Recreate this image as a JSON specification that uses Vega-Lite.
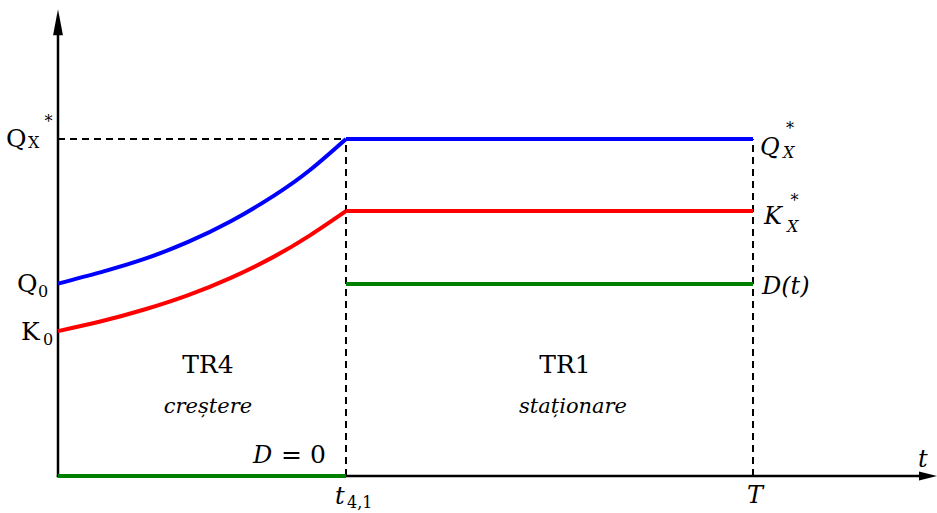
{
  "$schema": "https://vega.github.io/schema/vega-lite/v6.json",
  "width": 937,
  "height": 513,
  "autosize": {"type": "none"},
  "padding": 0,
  "background": "white",
  "config": {"view": {"stroke": null}, "text": {"font": "DejaVu Serif", "color": "black"}},
  "datasets": {
    "axes": [
      {"axis": "y", "x": 0, "y": -0.004},
      {"axis": "y", "x": 0, "y": 1.31},
      {"axis": "x", "x": -0.004, "y": 0},
      {"axis": "x", "x": 2.99, "y": 0}
    ],
    "guides": [
      {"x": 0, "y": 1, "x2": 1, "y2": 1},
      {"x": 1, "y": 0, "x2": 1, "y2": 1},
      {"x": 2.4132, "y": 0, "x2": 2.4132, "y2": 1}
    ],
    "curves": [
      {"series": "Q", "seg": "Qc", "x": 0, "y": 0.571},
      {"series": "Q", "seg": "Qc", "x": 0.15, "y": 0.605},
      {"series": "Q", "seg": "Qc", "x": 0.3, "y": 0.644},
      {"series": "Q", "seg": "Qc", "x": 0.45, "y": 0.694},
      {"series": "Q", "seg": "Qc", "x": 0.6, "y": 0.756},
      {"series": "Q", "seg": "Qc", "x": 0.75, "y": 0.832},
      {"series": "Q", "seg": "Qc", "x": 0.875, "y": 0.908},
      {"series": "Q", "seg": "Qc", "x": 1, "y": 1},
      {"series": "Q", "seg": "Qf", "x": 1, "y": 1},
      {"series": "Q", "seg": "Qf", "x": 2.4132, "y": 1},
      {"series": "K", "seg": "Kc", "x": 0, "y": 0.43},
      {"series": "K", "seg": "Kc", "x": 0.15, "y": 0.459},
      {"series": "K", "seg": "Kc", "x": 0.3, "y": 0.494},
      {"series": "K", "seg": "Kc", "x": 0.45, "y": 0.536},
      {"series": "K", "seg": "Kc", "x": 0.6, "y": 0.588},
      {"series": "K", "seg": "Kc", "x": 0.75, "y": 0.651},
      {"series": "K", "seg": "Kc", "x": 0.875, "y": 0.714},
      {"series": "K", "seg": "Kc", "x": 1, "y": 0.786},
      {"series": "K", "seg": "Kf", "x": 1, "y": 0.786},
      {"series": "K", "seg": "Kf", "x": 2.4132, "y": 0.786},
      {"series": "D", "seg": "D0", "x": 0, "y": 0},
      {"series": "D", "seg": "D0", "x": 1, "y": 0},
      {"series": "D", "seg": "Df", "x": 1, "y": 0.57},
      {"series": "D", "seg": "Df", "x": 2.4132, "y": 0.57}
    ],
    "arrowY": [{"x": 0, "y": 1.3463}],
    "arrowX": [{"x": 3.0208, "y": 0}],
    "romanBig": [
      {"x": -0.1806, "y": 0.9763, "t": "Q"},
      {"x": -0.1424, "y": 0.546, "t": "Q"},
      {"x": -0.1285, "y": 0.4036, "t": "K"},
      {"x": 0.7743, "y": 0.0386, "t": "= 0"}
    ],
    "romanCenter": [
      {"x": 0.5208, "y": 0.3056, "t": "TR4"},
      {"x": 1.7604, "y": 0.3056, "t": "TR1"}
    ],
    "italicCenter": [
      {"x": 0.5208, "y": 0.1869, "t": "creștere"},
      {"x": 1.7882, "y": 0.1869, "t": "staționare"}
    ],
    "italicBig": [
      {"x": 2.4375, "y": 0.9525, "t": "Q"},
      {"x": 2.4514, "y": 0.7478, "t": "K"},
      {"x": 2.4444, "y": 0.5401, "t": "D(t)"},
      {"x": 0.6771, "y": 0.0386, "t": "D"},
      {"x": 0.9618, "y": -0.083, "t": "t"},
      {"x": 2.3924, "y": -0.0801, "t": "T"},
      {"x": 2.9861, "y": 0.0267, "t": "t"}
    ],
    "romanSub": [
      {"x": -0.1042, "y": 0.9733, "t": "X"},
      {"x": -0.0694, "y": 0.5312, "t": "0"},
      {"x": -0.0521, "y": 0.3887, "t": "0"},
      {"x": 1.0035, "y": -0.095, "t": "4,1"}
    ],
    "italicSub": [
      {"x": 2.5174, "y": 0.9436, "t": "X"},
      {"x": 2.5313, "y": 0.724, "t": "X"}
    ],
    "stars": [
      {"x": -0.033, "y": 1.0519, "t": "*"},
      {"x": 2.5417, "y": 1.0297, "t": "*"},
      {"x": 2.5573, "y": 0.816, "t": "*"}
    ]
  },
  "encoding": {
    "x": {"field": "x", "type": "quantitative", "scale": {"domain": [-0.20139, 3.05208], "nice": false, "zero": false}, "axis": null},
    "y": {"field": "y", "type": "quantitative", "scale": {"domain": [-0.10979, 1.41246], "nice": false, "zero": false}, "axis": null}
  },
  "layer": [
    {
      "data": {"name": "axes"},
      "mark": {"type": "line", "color": "black", "strokeWidth": 2.5},
      "encoding": {"detail": {"field": "axis"}}
    },
    {
      "data": {"name": "guides"},
      "mark": {"type": "rule", "color": "black", "strokeWidth": 2, "strokeDash": [7, 5]},
      "encoding": {"x2": {"field": "x2"}, "y2": {"field": "y2"}}
    },
    {
      "data": {"name": "curves"},
      "mark": {"type": "line", "strokeWidth": 4, "interpolate": "natural"},
      "encoding": {
        "color": {"field": "series", "type": "nominal", "scale": {"domain": ["Q", "K", "D"], "range": ["#0000ff", "#ff0000", "#008000"]}, "legend": null},
        "detail": {"field": "seg"}
      }
    },
    {
      "data": {"name": "arrowY"},
      "mark": {"type": "point", "filled": true, "color": "black", "opacity": 1, "size": 676, "shape": "M0,-1L0.38,1L-0.38,1Z"}
    },
    {
      "data": {"name": "arrowX"},
      "mark": {"type": "point", "filled": true, "color": "black", "opacity": 1, "size": 324, "shape": "M1,0L-1,0.5L-1,-0.5Z"}
    },
    {
      "data": {"name": "romanBig"},
      "mark": {"type": "text", "font": "DejaVu Serif", "fontSize": 25, "align": "left", "baseline": "alphabetic"},
      "encoding": {"text": {"field": "t"}}
    },
    {
      "data": {"name": "romanCenter"},
      "mark": {"type": "text", "font": "DejaVu Serif", "fontSize": 25, "align": "center", "baseline": "alphabetic"},
      "encoding": {"text": {"field": "t"}}
    },
    {
      "data": {"name": "italicCenter"},
      "mark": {"type": "text", "font": "DejaVu Serif", "fontSize": 21, "fontStyle": "italic", "align": "center", "baseline": "alphabetic"},
      "encoding": {"text": {"field": "t"}}
    },
    {
      "data": {"name": "italicBig"},
      "mark": {"type": "text", "font": "DejaVu Serif", "fontSize": 24, "fontStyle": "italic", "align": "left", "baseline": "alphabetic"},
      "encoding": {"text": {"field": "t"}}
    },
    {
      "data": {"name": "romanSub"},
      "mark": {"type": "text", "font": "DejaVu Serif", "fontSize": 16, "align": "left", "baseline": "alphabetic"},
      "encoding": {"text": {"field": "t"}}
    },
    {
      "data": {"name": "italicSub"},
      "mark": {"type": "text", "font": "DejaVu Serif", "fontSize": 16, "fontStyle": "italic", "align": "left", "baseline": "alphabetic"},
      "encoding": {"text": {"field": "t"}}
    },
    {
      "data": {"name": "stars"},
      "mark": {"type": "text", "font": "DejaVu Serif", "fontSize": 16, "align": "center", "baseline": "middle"},
      "encoding": {"text": {"field": "t"}}
    }
  ]
}
